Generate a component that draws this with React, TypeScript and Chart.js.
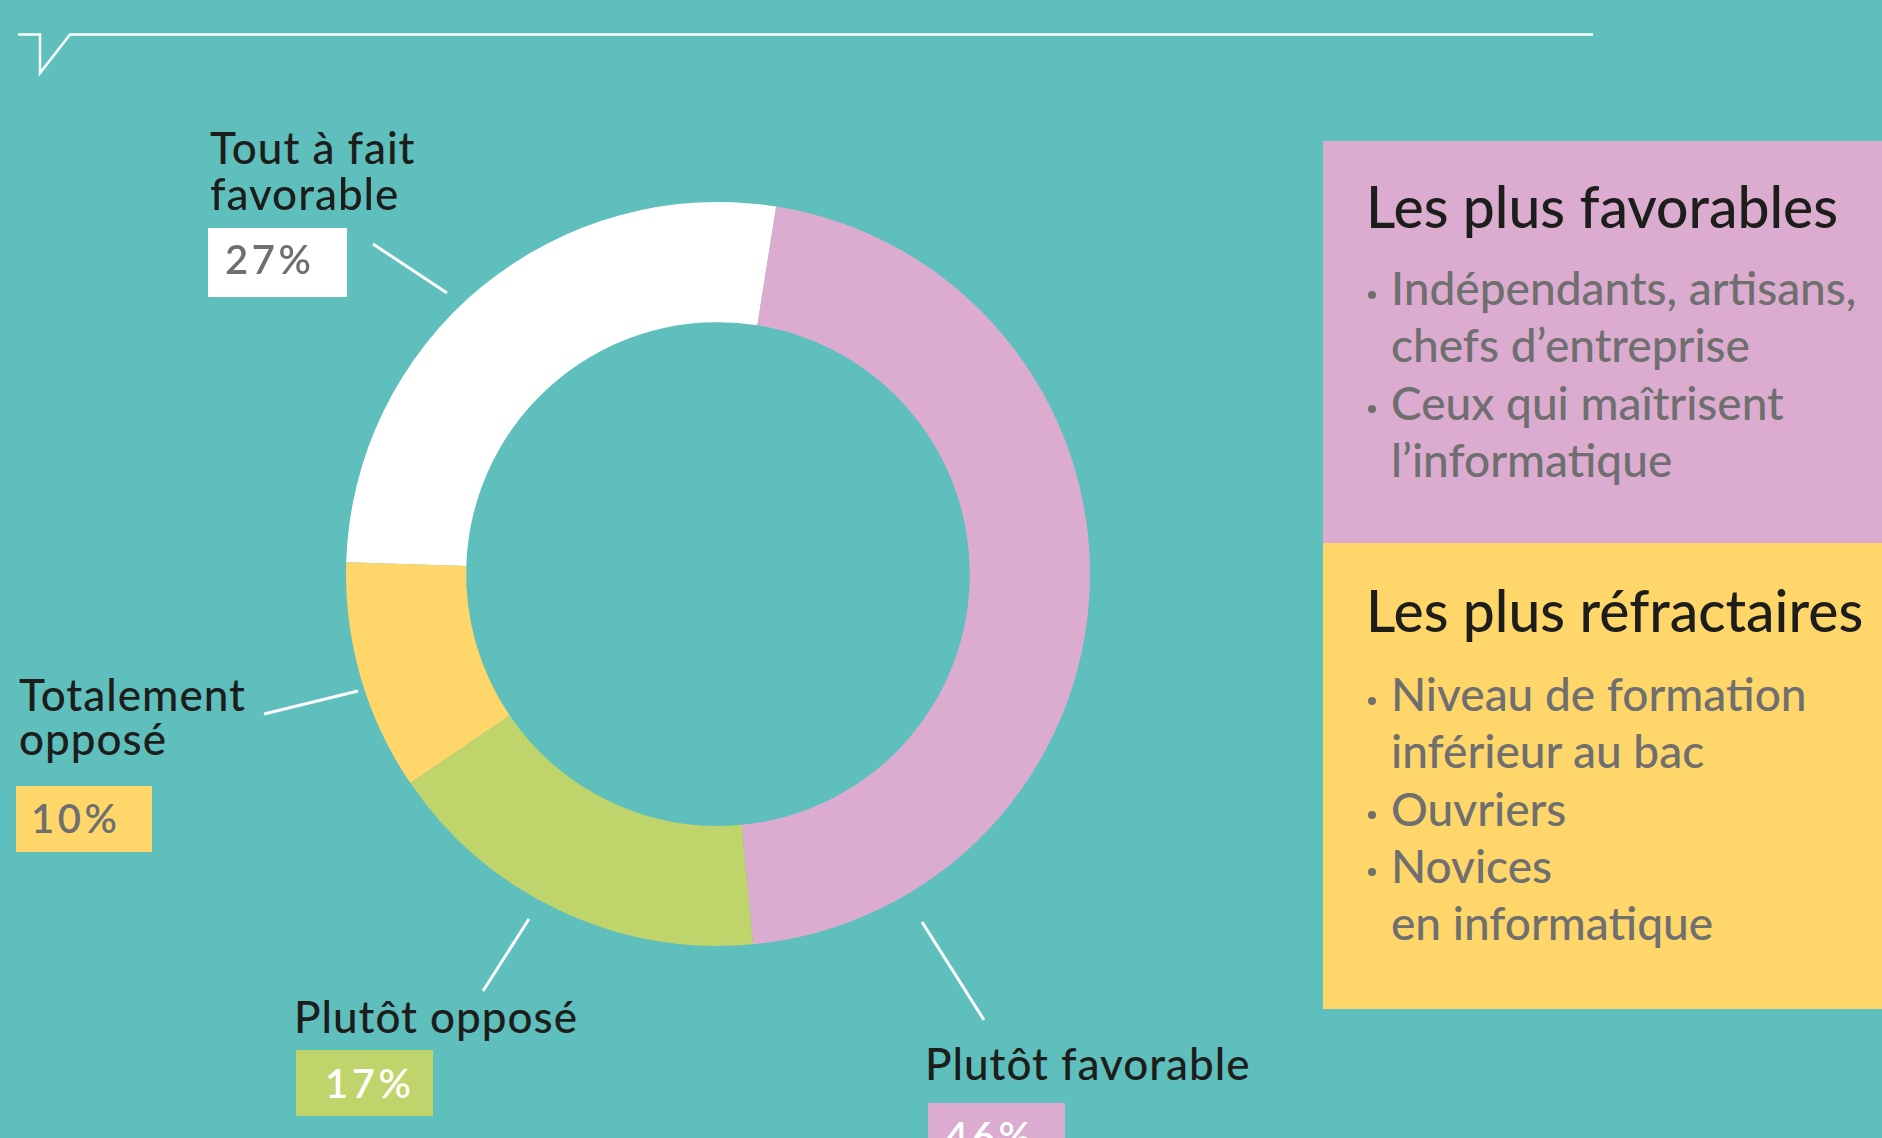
import React, { useEffect, useRef } from "react";
import { Chart, registerables } from "chart.js";

Chart.register(...registerables);

// ---- Data ----
const categories = ["Tout à fait favorable", "Plutôt favorable", "Plutôt opposé", "Totalement opposé"];
const values = [27, 46, 17, 10];
const sliceColors = ["#FFFFFF", "#DBACCF", "#BFD46A", "#FED66A"];
const valueLabels = ["27%", "46%", "17%", "10%"];

const favorablesTitle = "Les plus favorables";
const favorablesLines = [
  { bullet: true, text: "Indépendants, artisans," },
  { bullet: false, text: "chefs d’entreprise" },
  { bullet: true, text: "Ceux qui maîtrisent" },
  { bullet: false, text: "l’informatique" },
];
const refractairesTitle = "Les plus réfractaires";
const refractairesLines = [
  { bullet: true, text: "Niveau de formation" },
  { bullet: false, text: "inférieur au bac" },
  { bullet: true, text: "Ouvriers" },
  { bullet: true, text: "Novices" },
  { bullet: false, text: "en informatique" },
];

const BG = "#5EBFBD";
const DARK = "#1D1D1B";
const GRAY = "#6F6F6F";
const FONT = "Lato, 'Open Sans', sans-serif";

// place text by baseline (Lato metrics, line-height 1)
function T(props: {
  x: number;
  base: number;
  size: number;
  color: string;
  weight?: number;
  ls?: number;
  children: React.ReactNode;
}) {
  const top = props.base - 0.887 * props.size;
  return (
    <div
      style={{
        position: "absolute",
        left: props.x,
        top,
        fontFamily: FONT,
        fontSize: props.size,
        lineHeight: `${props.size}px`,
        color: props.color,
        fontWeight: props.weight ?? 500,
        letterSpacing: props.ls ?? 0,
        whiteSpace: "nowrap",
      }}
    >
      {props.children}
    </div>
  );
}

function Box(props: { x: number; y: number; w: number; h: number; color: string }) {
  return (
    <div
      style={{
        position: "absolute",
        left: props.x,
        top: props.y,
        width: props.w,
        height: props.h,
        background: props.color,
      }}
    />
  );
}

function Label(props: { x: number; base: number; children: React.ReactNode }) {
  return (
    <T x={props.x} base={props.base} size={44} color={DARK} weight={500} ls={1}>
      {props.children}
    </T>
  );
}

function Pct(props: { x: number; base: number; color: string; children: React.ReactNode }) {
  return (
    <T x={props.x} base={props.base} size={40} color={props.color} weight={600} ls={3.5}>
      {props.children}
    </T>
  );
}

export default function App() {
  const ref = useRef<HTMLCanvasElement | null>(null);

  useEffect(() => {
    if (!ref.current) return;
    const chart = new Chart(ref.current, {
      type: "doughnut",
      data: {
        labels: categories,
        datasets: [
          {
            data: values,
            backgroundColor: sliceColors,
            borderWidth: 0,
            hoverOffset: 0,
            offset: 0,
          },
        ],
      },
      options: {
        responsive: false,
        animation: false,
        rotation: -88.2,
        radius: 372,
        cutout: "67.7%",
        layout: { padding: 0 },
        plugins: {
          legend: { display: false },
          tooltip: { enabled: false },
        },
        events: [],
      },
    });
    return () => chart.destroy();
  }, []);

  const bulletList = (
    lines: { bullet: boolean; text: string }[],
    firstBase: number
  ) =>
    lines.map((l, i) => {
      const base = firstBase + i * 57.2;
      return (
        <React.Fragment key={i}>
          {l.bullet && (
            <div
              style={{
                position: "absolute",
                left: 1368,
                top: base - 15.5,
                width: 8,
                height: 8,
                borderRadius: 4,
                background: GRAY,
              }}
            />
          )}
          <T x={1391} base={base} size={46} color={GRAY} weight={500}>
            {l.text}
          </T>
        </React.Fragment>
      );
    });

  return (
    <div
      style={{
        position: "fixed",
        left: 0,
        top: 0,
        width: 1882,
        height: 1138,
        background: BG,
        overflow: "hidden",
      }}
    >
      {/* header rule with notch */}
      <svg
        width={1882}
        height={1138}
        style={{ position: "absolute", left: 0, top: 0 }}
      >
        <polyline
          points="18,34.5 40,34.5 40,73 70,34.5 1593,34.5"
          fill="none"
          stroke="#FFFFFF"
          strokeWidth={2.5}
          strokeLinejoin="miter"
        />
        <line x1={373} y1={244} x2={447} y2={293} stroke="#FFFFFF" strokeWidth={3} />
        <line x1={264} y1={714} x2={358} y2={691} stroke="#FFFFFF" strokeWidth={3} />
        <line x1={483} y1={991} x2={529} y2={919} stroke="#FFFFFF" strokeWidth={3} />
        <line x1={984} y1={1020} x2={922} y2={922} stroke="#FFFFFF" strokeWidth={3} />
      </svg>

      {/* donut */}
      <div style={{ position: "absolute", left: 338, top: 194, width: 760, height: 760 }}>
        <canvas ref={ref} width={760} height={760} style={{ width: 760, height: 760 }} />
      </div>

      {/* Tout à fait favorable */}
      <Label x={210} base={164}>Tout à fait</Label>
      <Label x={210} base={210}>favorable</Label>
      <Box x={208} y={228} w={139} h={69} color={sliceColors[0]} />
      <Pct x={225} base={274} color={GRAY}>{valueLabels[0]}</Pct>

      {/* Totalement opposé */}
      <Label x={19} base={711}>Totalement</Label>
      <Label x={19} base={755}>opposé</Label>
      <Box x={16} y={786} w={136} h={66} color={sliceColors[3]} />
      <Pct x={31} base={833} color={GRAY}>{valueLabels[3]}</Pct>

      {/* Plutôt opposé */}
      <Label x={294} base={1033}>Plutôt opposé</Label>
      <Box x={296} y={1050} w={137} h={66} color={sliceColors[2]} />
      <Pct x={325} base={1098} color="#FFFFFF">{valueLabels[2]}</Pct>

      {/* Plutôt favorable */}
      <Label x={925} base={1080}>Plutôt favorable</Label>
      <Box x={928} y={1103} w={137} h={60} color={sliceColors[1]} />
      <Pct x={945} base={1151} color="#FFFFFF">{valueLabels[1]}</Pct>

      {/* Right panels */}
      <Box x={1323} y={141} w={559} h={402} color="#DBACCF" />
      <Box x={1323} y={543} w={559} h={466} color="#FED66A" />
      <T x={1366} base={229} size={57} color={DARK}>{favorablesTitle}</T>
      {bulletList(favorablesLines, 306)}
      <T x={1366} base={633} size={57} color={DARK}>{refractairesTitle}</T>
      {bulletList(refractairesLines, 712)}
    </div>
  );
}
